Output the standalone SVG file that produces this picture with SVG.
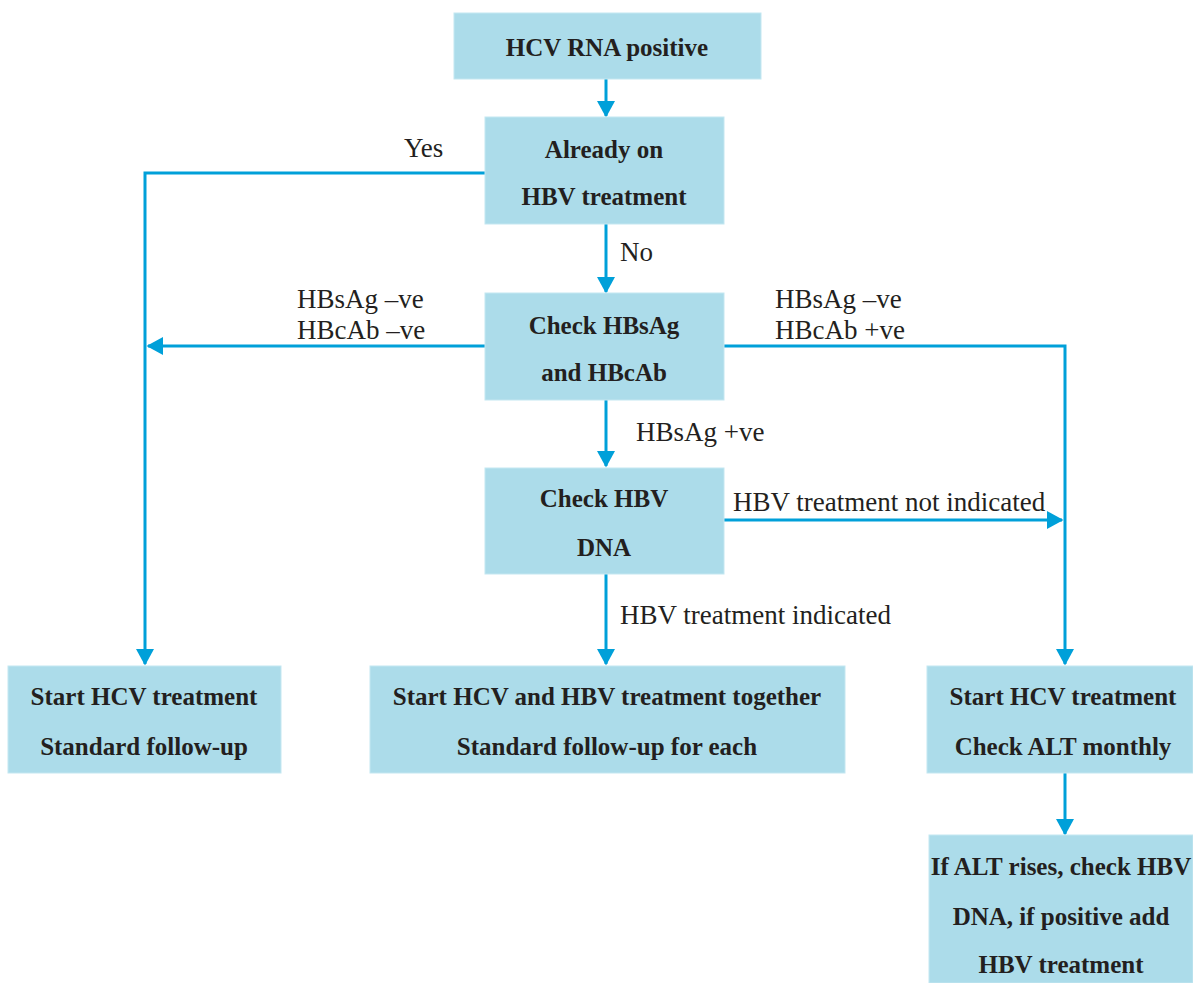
<svg xmlns="http://www.w3.org/2000/svg" width="1193" height="983" viewBox="0 0 1193 983">
<style>
.box{fill:#acdcea;stroke:#c4e7f1;stroke-width:1}
.bt{font-family:'Liberation Serif','Times New Roman','DejaVu Serif',serif;font-weight:bold;font-size:25px;fill:#231f20;text-anchor:middle}
.lb{font-family:'Liberation Serif','Times New Roman','DejaVu Serif',serif;font-size:27px;fill:#231f20}
.ln{fill:none;stroke:#00a0d9;stroke-width:3}
</style>
<defs>
<marker id="ah" markerWidth="6" markerHeight="6" refX="5" refY="3" orient="auto" markerUnits="strokeWidth">
<path d="M0,0 L5.5,3 L0,6 Z" fill="#00a0d9"/>
</marker>
</defs>
<rect width="1193" height="983" fill="#fff"/>
<g id="connectors">
<line class="ln" x1="606" y1="79" x2="606" y2="116" marker-end="url(#ah)"/>
<polyline class="ln" points="485,173 145,173 145,664" marker-end="url(#ah)"/>
<line class="ln" x1="606" y1="224" x2="606" y2="292" marker-end="url(#ah)"/>
<line class="ln" x1="485" y1="346" x2="148" y2="346" marker-end="url(#ah)"/>
<polyline class="ln" points="724,346 1065,346 1065,664" marker-end="url(#ah)"/>
<line class="ln" x1="606" y1="400" x2="606" y2="466" marker-end="url(#ah)"/>
<line class="ln" x1="724" y1="520" x2="1062" y2="520" marker-end="url(#ah)"/>
<line class="ln" x1="606" y1="574" x2="606" y2="664" marker-end="url(#ah)"/>
<line class="ln" x1="1065" y1="773" x2="1065" y2="834" marker-end="url(#ah)"/>
<text class="lb" x="404" y="157">Yes</text>
<text class="lb" x="620" y="261">No</text>
<text class="lb" x="297" y="308">HBsAg –ve</text>
<text class="lb" x="297" y="339">HBcAb –ve</text>
<text class="lb" x="775" y="308">HBsAg –ve</text>
<text class="lb" x="775" y="339">HBcAb +ve</text>
<text class="lb" x="636" y="441">HBsAg +ve</text>
<text class="lb" x="733" y="511">HBV treatment not indicated</text>
<text class="lb" x="620" y="624">HBV treatment indicated</text>
</g>
<g id="n1"><rect class="box" x="454" y="13" width="307" height="66"/><text class="bt" x="607" y="56">HCV RNA positive</text></g>
<g id="n2"><rect class="box" x="485" y="117" width="239" height="107"/><text class="bt" x="604" y="158">Already on</text><text class="bt" x="604" y="205">HBV treatment</text></g>
<g id="n3"><rect class="box" x="485" y="293" width="239" height="107"/><text class="bt" x="604" y="334">Check HBsAg</text><text class="bt" x="604" y="381">and HBcAb</text></g>
<g id="n4"><rect class="box" x="485" y="468" width="239" height="106"/><text class="bt" x="604" y="507">Check HBV</text><text class="bt" x="604" y="556">DNA</text></g>
<g id="n5"><rect class="box" x="8" y="666" width="273" height="107"/><text class="bt" x="144" y="705">Start HCV treatment</text><text class="bt" x="144" y="755">Standard follow-up</text></g>
<g id="n6"><rect class="box" x="370" y="666" width="475" height="107"/><text class="bt" x="607" y="705">Start HCV and HBV treatment together</text><text class="bt" x="607" y="755">Standard follow-up for each</text></g>
<g id="n7"><rect class="box" x="927" y="666" width="266" height="107"/><text class="bt" x="1063" y="705">Start HCV treatment</text><text class="bt" x="1063" y="755">Check ALT monthly</text></g>
<g id="n8"><rect class="box" x="929" y="835" width="264" height="148"/><text class="bt" x="1061" y="875">If ALT rises, check HBV</text><text class="bt" x="1061" y="925">DNA, if positive add</text><text class="bt" x="1061" y="973">HBV treatment</text></g>
</svg>
